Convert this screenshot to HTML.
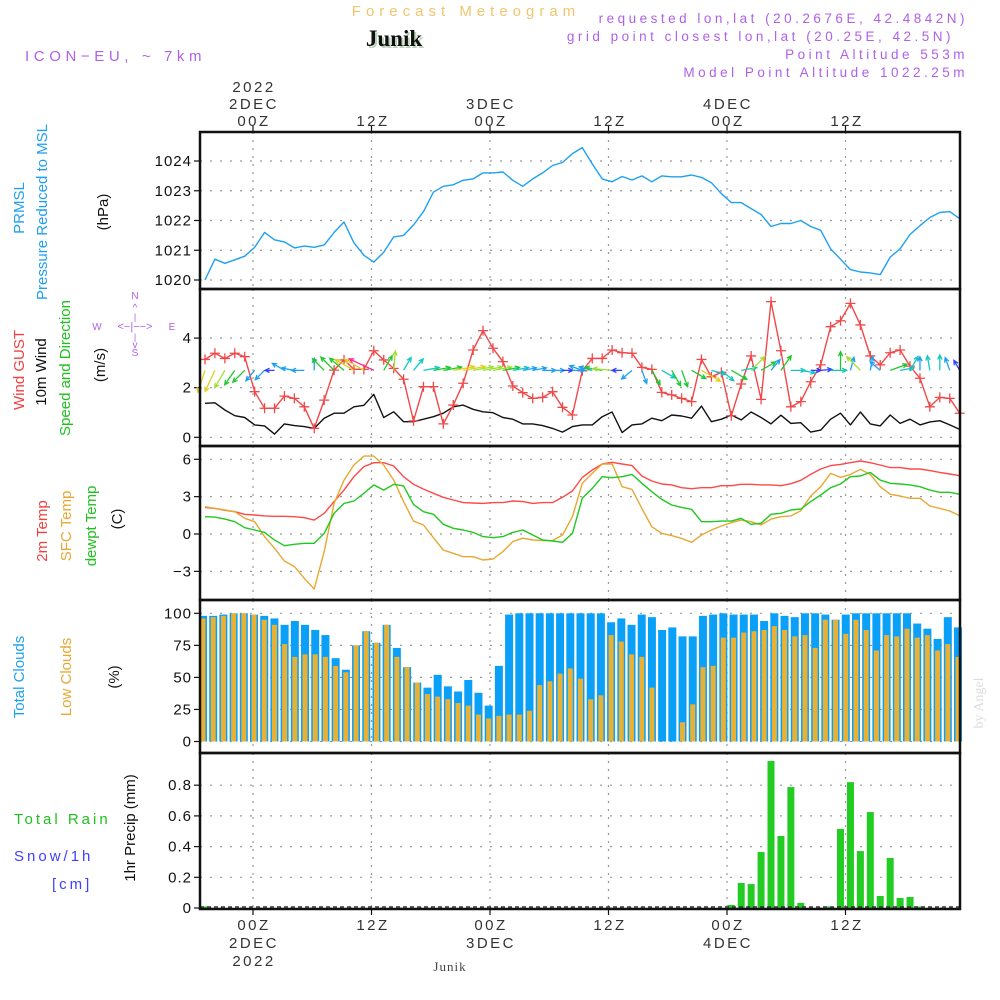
<!DOCTYPE html>
<html><head><meta charset="utf-8">
<style>
html,body{margin:0;padding:0;background:#fff;width:1000px;height:1000px;overflow:hidden}
svg{display:block;font-family:"Liberation Sans",sans-serif}
</style></head>
<body>
<svg id="chart" width="1000" height="1000" viewBox="0 0 1000 1000" xmlns="http://www.w3.org/2000/svg">
<rect x="0" y="0" width="1000" height="1000" fill="#fff"/>
<text x="466" y="16" text-anchor="middle" font-size="15" fill="#f2c46e" letter-spacing="5">Forecast Meteogram</text>
<text x="396" y="48" text-anchor="middle" font-size="23" font-weight="bold" font-family="Liberation Serif, serif" fill="#bcd4bc">Junik</text>
<text x="394" y="46" text-anchor="middle" font-size="23" font-weight="bold" font-family="Liberation Serif, serif" fill="#111">Junik</text>
<text x="25" y="61" font-size="15" fill="#b060e8" letter-spacing="4.6">ICON−EU, ~ 7km</text>
<g font-size="13.5" fill="#b060e8" text-anchor="end" letter-spacing="3.5">
<text x="968" y="23">requested lon,lat (20.2676E, 42.4842N)</text>
<text x="954" y="41">grid point closest lon,lat (20.25E, 42.5N)</text>
<text x="968" y="59">Point Altitude 553m</text>
<text x="968" y="77">Model Point Altitude 1022.25m</text>
</g>
<g id="toplabels" font-size="15" fill="#333" text-anchor="middle" letter-spacing="2.5">
<text x="254" y="92">2022</text><text x="254" y="109">2DEC</text><text x="254" y="126">00Z</text>
<text x="373" y="126">12Z</text>
<text x="491" y="109">3DEC</text><text x="491" y="126">00Z</text>
<text x="610" y="126">12Z</text>
<text x="728" y="109">4DEC</text><text x="728" y="126">00Z</text>
<text x="847" y="126">12Z</text>
</g>
<g font-size="15" fill="#333" text-anchor="middle" letter-spacing="2.5">
<text x="254" y="930">00Z</text><text x="254" y="948">2DEC</text><text x="254" y="966">2022</text>
<text x="373" y="930">12Z</text>
<text x="491" y="930">00Z</text><text x="491" y="948">3DEC</text>
<text x="610" y="930">12Z</text>
<text x="728" y="930">00Z</text><text x="728" y="948">4DEC</text>
<text x="847" y="930">12Z</text>
</g>
<text x="450" y="971" text-anchor="middle" font-size="13" font-family="Liberation Serif, serif" fill="#444" letter-spacing="1">Junik</text>
<text transform="translate(983,703) rotate(-90)" text-anchor="middle" font-size="14" font-family="Liberation Serif, serif" fill="#ddd">by Angel</text>

<g font-size="15">
<text transform="translate(24,208) rotate(-90)" text-anchor="middle" fill="#1ea0f0">PRMSL</text>
<text transform="translate(47,212) rotate(-90)" text-anchor="middle" fill="#1ea0f0">Pressure  Reduced to MSL</text>
<text transform="translate(108,212) rotate(-90)" text-anchor="middle" fill="#111">(hPa)</text>
<text transform="translate(24,370) rotate(-90)" text-anchor="middle" fill="#f04040">Wind GUST</text>
<text transform="translate(46,372) rotate(-90)" text-anchor="middle" fill="#111">10m Wind</text>
<text transform="translate(70,368) rotate(-90)" text-anchor="middle" fill="#20c020">Speed and Direction</text>
<text transform="translate(105,365) rotate(-90)" text-anchor="middle" fill="#111">(m/s)</text>
<text transform="translate(47,531) rotate(-90)" text-anchor="middle" fill="#f04040">2m Temp</text>
<text transform="translate(71,526) rotate(-90)" text-anchor="middle" fill="#e8a830">SFC Temp</text>
<text transform="translate(96,526) rotate(-90)" text-anchor="middle" fill="#20c020">dewpt Temp</text>
<text transform="translate(122,519) rotate(-90)" text-anchor="middle" fill="#111">(C)</text>
<text transform="translate(24,677) rotate(-90)" text-anchor="middle" fill="#1ea0f0">Total Clouds</text>
<text transform="translate(71,677) rotate(-90)" text-anchor="middle" fill="#e8a830">Low Clouds</text>
<text transform="translate(119,677) rotate(-90)" text-anchor="middle" fill="#111">(%)</text>
<text transform="translate(135,828) rotate(-90)" text-anchor="middle" fill="#111">1hr Precip (mm)</text>
<text x="14" y="824" fill="#20c020" letter-spacing="3">Total   Rain</text>
<text x="14" y="861" fill="#4040ff" letter-spacing="3">Snow/1h</text>
<text x="52" y="889" fill="#4040ff" letter-spacing="3">[cm]</text>
</g>
<g fill="#b060e8" font-size="10" text-anchor="middle">
<text x="135" y="299">N</text><text x="135" y="356">S</text><text x="97" y="330">W</text><text x="172" y="330">E</text>
<text x="135" y="330" font-size="11">&lt;−|−−&gt;</text>
<text x="135" y="311" font-size="10">^</text><text x="135" y="320" font-size="9">|</text>
<text x="135" y="340" font-size="9">|</text><text x="135" y="348" font-size="10">v</text>
</g>
<g id="plot"></g>
</svg>
<script>
const pressure = [1020.0,1020.7,1020.56,1020.68,1020.8,1021.1,1021.6,1021.35,1021.28,1021.08,1021.14,1021.1,1021.18,1021.6,1021.95,1021.25,1020.83,1020.6,1020.93,1021.45,1021.5,1021.85,1022.3,1022.95,1023.15,1023.2,1023.35,1023.4,1023.6,1023.6,1023.63,1023.35,1023.15,1023.4,1023.6,1023.85,1023.95,1024.25,1024.45,1023.9,1023.4,1023.3,1023.48,1023.36,1023.5,1023.3,1023.5,1023.47,1023.47,1023.53,1023.45,1023.27,1022.9,1022.6,1022.6,1022.4,1022.2,1021.8,1021.9,1021.9,1022.0,1021.8,1021.67,1021.05,1020.7,1020.35,1020.27,1020.24,1020.18,1020.77,1021.05,1021.53,1021.83,1022.1,1022.27,1022.3,1022.06];
const gust = [3.14,3.39,3.18,3.39,3.25,1.84,1.17,1.17,1.66,1.57,1.23,0.36,1.5,2.71,3.12,2.74,2.74,3.49,3.12,2.78,2.34,0.66,2.04,2.04,0.54,1.3,2.18,3.52,4.3,3.59,3.05,2.07,1.8,1.57,1.61,1.84,1.21,0.9,2.68,3.18,3.18,3.52,3.41,3.39,2.82,2.74,1.81,1.71,1.57,1.44,3.14,2.44,2.62,0.87,2.15,3.28,1.53,5.47,3.49,1.23,1.44,2.24,2.92,4.46,4.7,5.4,4.53,3.28,2.92,3.41,3.52,2.87,2.38,1.23,1.61,1.57,0.97];
const windSpeed = [1.37,1.39,1.1,0.87,0.8,0.5,0.46,0.13,0.54,0.47,0.43,0.36,0.77,0.97,0.97,1.23,1.29,1.73,0.8,1.03,0.63,0.63,0.73,0.83,0.97,1.23,1.3,1.13,1.03,0.99,0.8,0.73,0.54,0.54,0.47,0.36,0.21,0.43,0.5,0.5,0.83,1.02,0.19,0.5,0.54,0.77,0.67,0.9,0.86,0.77,1.26,0.63,0.73,0.9,0.7,1.02,0.8,0.54,0.89,0.56,0.59,0.21,0.29,0.73,0.97,0.5,1.02,0.54,0.46,0.9,0.56,0.73,0.5,0.62,0.67,0.5,0.32];
const windDir = [252,245,240,235,225,230,225,180,150,170,180,90,135,135,140,150,150,155,60,85,60,50,10,10,10,10,10,10,10,10,10,10,10,10,0,0,0,0,160,165,170,175,180,220,290,300,330,300,290,330,330,345,320,330,10,45,30,50,55,0,350,0,5,0,90,75,135,80,140,20,10,60,90,100,90,110,120];
const temp2m = [2.14,2.06,1.9,1.79,1.58,1.53,1.45,1.42,1.42,1.39,1.31,1.12,1.66,2.6,3.53,4.6,5.41,5.73,5.73,5.46,4.6,3.99,3.61,3.27,2.95,2.73,2.52,2.49,2.46,2.52,2.52,2.65,2.6,2.46,2.52,2.52,2.95,3.45,4.55,5.14,5.62,5.76,5.62,5.49,4.66,4.26,4.02,3.94,3.72,3.64,3.72,3.72,3.88,3.88,3.99,3.99,3.94,3.94,3.88,4.04,4.31,4.79,5.22,5.49,5.59,5.73,5.86,5.73,5.54,5.33,5.33,5.22,5.22,5.09,4.95,4.82,4.68];
const sfcTemp = [2.19,2.06,1.93,1.79,1.26,0.99,-0.21,-1.15,-2.17,-2.62,-3.56,-4.42,-1.41,2.46,4.33,5.54,6.26,6.26,5.54,4.33,2.6,1.04,0.72,-0.3,-1.29,-1.55,-1.82,-1.82,-2.09,-2.01,-1.41,-0.61,-0.34,-0.48,-0.53,-0.53,-0.08,1.39,4.07,4.87,5.62,5.62,3.8,3.58,2.06,0.59,0.05,-0.13,-0.35,-0.67,-0.08,0.32,0.64,0.91,1.12,0.99,0.72,1.2,1.39,1.45,1.87,3.05,3.8,4.87,4.55,4.79,5.19,4.79,3.8,3.19,3.05,2.87,2.87,2.25,2.06,1.85,1.47];
const dewpt = [1.39,1.36,1.2,0.99,0.51,0.32,0.13,-0.48,-0.94,-0.83,-0.75,-0.75,0.05,1.66,2.46,2.65,3.27,3.94,3.53,3.99,3.86,2.38,1.79,1.58,0.78,0.46,0.32,0.13,-0.21,-0.3,-0.21,0.13,0.32,-0.08,-0.48,-0.56,-0.67,0.05,2.87,3.66,4.6,4.52,4.6,4.79,4.07,3.4,2.78,2.33,2.14,1.98,0.99,0.99,1.04,1.04,1.26,0.78,0.86,1.58,1.66,1.93,2.01,2.6,3.13,3.72,4.02,4.6,4.66,4.95,4.33,4.07,4.02,3.94,3.8,3.53,3.35,3.35,3.19];
const totalClouds = [98,98,99,100,100,99,98,96,91,94,91,87,83,65,56,75,86,77,91,73,58,46,42,52,43,39,48,38,28,59,99,100,100,100,100,100,100,100,100,100,93,96,91,99,97,87,89,82,82,98,99,100,99,99,99,94,100,98,97,100,100,99,95,99,100,100,100,100,100,100,92,88,80,97,89];
const lowClouds = [96,97,98,100,100,99,95,91,76,66,68,68,66,59,54,75,86,77,91,66,58,46,37,35,33,30,28,21,18,20,21,21,24,44,47,53,57,49,33,36,83,78,68,66,42,0,0,15,29,58,59,81,81,85,86,87,90,87,82,83,73,95,95,84,95,87,71,83,82,88,81,83,71,76,66];
const precipRain = [0.01,0,0,0,0,0,0,0,0,0,0,0,0,0,0,0,0,0,0,0,0,0,0,0,0,0,0,0,0,0,0,0,0,0,0,0,0,0,0,0,0,0,0,0,0,0,0,0,0,0,0,0,0,0.02,0.163,0.156,0.365,0.958,0.469,0.788,0.033,0,0,0.007,0.515,0.82,0.371,0.625,0.078,0.326,0.065,0.072,0.007,0,0,0,0];
const pressTicks = [1020,1021,1022,1023,1024];
const windTicks = [0,2,4];
const tempTicks = [-3,0,3,6];
const cloudTicks = [0,25,50,75,100];
const precipTicks = [0,0.2,0.4,0.6,0.8];
const precipTickLabels = ["0","0.2","0.4","0.6","0.8"];
const timeTickHours = [0,12,24,36,48,60];

const L=200,R=960;
const xi = i => 205 + i*9.93;
const xh = h => 253 + h*9.875;
const xc = i => 203 + i*(755/74);
const yP = v => 280 - (v-1020)*29.75;
const yW = v => 437.3 - v*24.8;
const yT = v => 534 - v*12.45;
const yC = v => 741.5 - v*1.282;
const yR = v => 908 - v*153.5;

const NS="http://www.w3.org/2000/svg";
const plot=document.getElementById('plot');
function mk(tag,attrs,parent){const e=document.createElementNS(NS,tag);for(const k in attrs)e.setAttribute(k,attrs[k]);(parent||plot).appendChild(e);return e;}

const panels=[
 {top:132,bot:289,ticks:pressTicks,lab:pressTicks.map(String),y:yP,name:'pressure'},
 {top:289,bot:446,ticks:windTicks,lab:windTicks.map(String),y:yW,name:'wind'},
 {top:446,bot:600,ticks:tempTicks,lab:tempTicks.map(t=>t<0?'−'+(-t):String(t)),y:yT,name:'temp'},
 {top:600,bot:753,ticks:cloudTicks,lab:cloudTicks.map(String),y:yC,name:'clouds'},
 {top:753,bot:909,ticks:precipTicks,lab:precipTickLabels,y:yR,name:'precip'}
];
panels.forEach(p=>{
  const g=mk('g',{});
  
  
  timeTickHours.forEach(h=>{
    const x=xh(h);
    mk('line',{x1:x,x2:x,y1:p.top,y2:p.bot,stroke:'#999','stroke-width':1.2,'stroke-dasharray':'2,6'},g);
  });
  p.ticks.forEach((t,k)=>{
    const y=p.y(t);
    mk('line',{x1:L,x2:R,y1:y,y2:y,stroke:'#999','stroke-width':1.2,'stroke-dasharray':'2,8'},g);
    mk('line',{x1:L-6,x2:L,y1:y,y2:y,stroke:'#111','stroke-width':1.2},g);
    const tx=mk('text',{x:L-8,y:y+5,'text-anchor':'end','font-size':15,fill:'#111','letter-spacing':1},g);
    tx.textContent=p.lab[k];
  });
});

const gc=mk('g',{});


totalClouds.forEach((v,i)=>{
  const b=mk('rect',{x:xc(i)-4,y:yC(v),width:8,height:yC(0)-yC(v),fill:'#0aa0f8'},gc);
  
  
});
lowClouds.forEach((v,i)=>{
  if(v<=0) return;
  const b=mk('rect',{x:xc(i)-2.5,y:yC(v),width:5,height:yC(0)-yC(v),fill:'#e8b034'},gc);
  
  
});

const gr=mk('g',{});


precipRain.forEach((v,i)=>{
  if(v<=0) return;
  const h=Math.max(yR(0)-yR(v),1.5);
  const b=mk('rect',{x:xi(i)-3.5,y:yR(0)-h,width:7,height:h,fill:'#22cc22'},gr);
  
  
});
mk('line',{x1:L,x2:R,y1:907,y2:907,stroke:'#333','stroke-width':1.5,'stroke-dasharray':'4,3'},gr);

function line(arr,yf,color,name,w){
  const pts=arr.map((v,i)=>xi(i).toFixed(1)+','+yf(v).toFixed(1)).join(' ');
  const pl=mk('polyline',{points:pts,fill:'none',stroke:color,'stroke-width':w||1.4,'stroke-linejoin':'round'});
  
  
  return pl;
}
line(pressure,yP,'#1ea0f0','pressure-line');
line(windSpeed,yW,'#111','wind-speed-line');
line(gust,yW,'#f04848','gust-line');
const gm=mk('g',{stroke:'#f04848','stroke-width':1.3});


gust.forEach((v,i)=>{const x=xi(i),y=yW(v);
  mk('path',{d:`M${x-5},${y}H${x+5}M${x},${y-5}V${y+5}`},gm);});

const cmap=['#8a10f0','#3040ff','#1ea0f0','#10c8c0','#20c830','#a0e030','#e0d020','#f0a030','#ff2090'];
function wcol(s){let k=Math.round(s/1.75*(cmap.length-1));return cmap[Math.max(0,Math.min(cmap.length-1,k))];}
const ga=mk('g',{fill:'none','stroke-width':1.3});


windDir.forEach((d,i)=>{
  const s=windSpeed[i], len=8+s*11, a=d*Math.PI/180;
  const x0=xi(i), y0=yW(2.7);
  const x1=x0+len*Math.cos(a), y1=y0-len*Math.sin(a);
  const hl=5, b1=a+Math.PI-0.45, b2=a+Math.PI+0.45;
  const c=wcol(s);
  const p=mk('path',{d:`M${x0},${y0}L${x1},${y1}M${x1+hl*Math.cos(b1)},${y1-hl*Math.sin(b1)}L${x1},${y1}L${x1+hl*Math.cos(b2)},${y1-hl*Math.sin(b2)}`,stroke:c},ga);
  
  
});

line(temp2m,yT,'#ff4848','temp-2m-line');
line(sfcTemp,yT,'#e8a830','sfc-temp-line');
line(dewpt,yT,'#20c820','dewpoint-line');

const gf=mk('g',{fill:'none',stroke:'#111','stroke-width':2.5});


panels.forEach(p=>mk('rect',{x:L,y:p.top,width:R-L,height:p.bot-p.top},gf));
timeTickHours.forEach(h=>{const x=xh(h);
  mk('line',{x1:x,x2:x,y1:126,y2:132,'stroke-width':1.2},gf);
  mk('line',{x1:x,x2:x,y1:909,y2:915,'stroke-width':1.2},gf);});
</script>
</body></html>
